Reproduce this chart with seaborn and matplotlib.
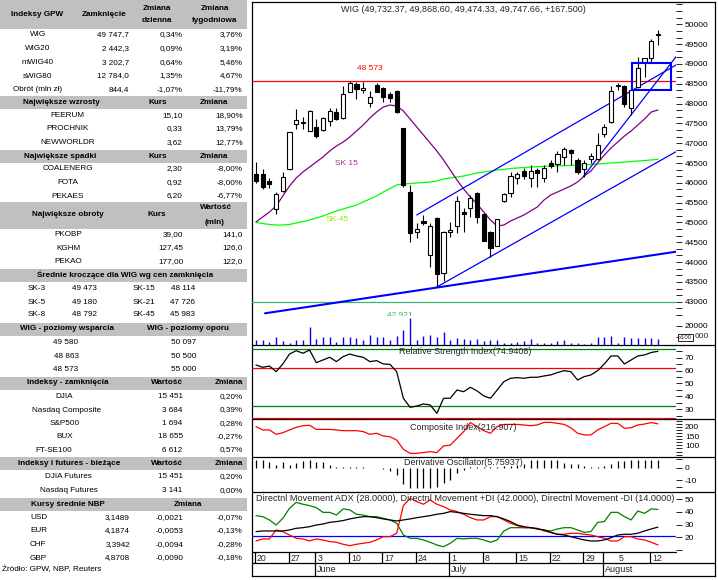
import numpy as np
import matplotlib
matplotlib.use("Agg")
import matplotlib.pyplot as plt
from matplotlib.patches import Rectangle
from matplotlib.ticker import MultipleLocator, FixedLocator
import seaborn as sns

# ------------------------------------------------------------------ data
wig_open = [46215, 46223, 46046, 45340, 45794, 46342, 47485, 47520, 47316, 47401,
            47333, 47560, 47780, 47628, 48300, 48494, 48330, 48007, 48469, 48385,
            48234, 48317, 47376, 45761, 44767, 45045, 44179, 45105, 43733, 44770,
            44919, 45272, 45358, 45736, 45214, 44767, 44414, 45542, 45751, 46115,
            46299, 46115, 46324, 46115, 46493, 46468, 46644, 46829, 46576, 46337,
            46594, 46594, 47225, 47527, 48440, 48443, 47881, 48410, 49041, 49150, 49732]
wig_high = [46533, 46342, 46130, 45777, 46281, 47290, 47863, 47669, 47840, 47600,
            47660, 47896, 47881, 48451, 48573, 48552, 48552, 48325, 48511, 48420,
            48300, 48330, 47380, 45946, 44994, 45189, 44979, 45146, 44790, 45020,
            45676, 45358, 45693, 45776, 45230, 44790, 45100, 45751, 46281, 46281,
            46367, 46450, 46367, 46450, 46576, 46803, 46912, 46866, 46634, 46576,
            46745, 47265, 47485, 48443, 48511, 48469, 48360, 49167, 49150, 49642, 49869]
wig_low = [45996, 45845, 45862, 45206, 45780, 46330, 47351, 47351, 47300, 47124,
           47300, 47442, 47580, 47610, 48290, 48115, 48259, 47921, 48280, 48047,
           48047, 47770, 45888, 44515, 44601, 44936, 43869, 43372, 43523, 44626,
           44742, 44767, 45146, 44979, 44520, 44121, 44400, 45524, 45650, 45963,
           46089, 45888, 45888, 46029, 46367, 46281, 46450, 46450, 46223, 46155,
           46493, 46576, 47164, 47510, 48342, 47901, 47712, 48385, 48663, 49036, 49474]
wig_close = [46054, 45887, 45963, 45711, 46155, 47275, 47586, 47530, 47820, 47189,
             47643, 47820, 47603, 48234, 48511, 48360, 48385, 48158, 48300, 48158,
             48133, 47780, 45946, 44742, 44828, 44979, 44903, 43692, 44767, 44800,
             45542, 45214, 45610, 45146, 44540, 44348, 45080, 45718, 46173, 46215,
             46180, 46299, 46241, 46367, 46417, 46720, 46846, 46745, 46281, 46493,
             46677, 46955, 47401, 48325, 48470, 47982, 48342, 48890, 49142, 49580, 49748]
sk15 = [45012, 45138, 45264, 45416, 45668, 45920, 46122, 46273, 46400, 46526,
        46652, 46803, 46929, 47030, 47157, 47308, 47460, 47636, 47787, 47913,
        47964, 47939, 47813, 47611, 47409, 47207, 47005, 46803, 46576, 46324,
        46072, 45845, 45643, 45466, 45264, 45062, 44911, 44936, 45037, 45113,
        45189, 45290, 45391, 45567, 45693, 45769, 45845, 45920, 46021, 46173,
        46299, 46501, 46702, 46879, 47030, 47182, 47308, 47460, 47611, 47787, 47838]
sk45 = [44999, 44974, 44949, 44936, 44936, 44949, 44987, 45025, 45062, 45113,
        45163, 45226, 45290, 45340, 45390, 45441, 45517, 45592, 45668, 45769,
        45857, 45945, 45971, 45983, 45996, 46008, 46021, 46046, 46097, 46122,
        46147, 46172, 46210, 46248, 46273, 46299, 46324, 46337, 46362, 46375,
        46387, 46400, 46407, 46417, 46425, 46425, 46432, 46437, 46450, 46455,
        46463, 46475, 46488, 46501, 46513, 46526, 46538, 46551, 46564, 46576, 46594]
volume = [7000, 7000, 5450, 9450, 6100, 4550, 7000, 7000, 19100, 7640,
          9450, 9450, 5450, 9450, 9450, 8550, 7000, 11550, 9450, 10000,
          7000, 10640, 16100, 26700, 7000, 10640, 11550, 10000, 14550, 7000,
          8550, 7640, 7000, 7640, 6360, 7000, 7000, 4550, 4550, 5450,
          6360, 7640, 4550, 4550, 4000, 6360, 7000, 4550, 4550, 3360,
          4000, 10000, 10000, 10640, 4550, 9450, 8550, 8550, 8550, 8550, 7640]
rsi = [64.3, 62.5, 63.5, 59.1, 65.1, 72.8, 75.4, 73.4, 75.9, 66.1,
       68.2, 70.3, 66.9, 70.8, 72.8, 71.3, 70.3, 66.9, 67.7, 65.1,
       64.8, 59.1, 38.5, 31.5, 32.5, 34.1, 33.3, 26.8, 38.5, 38.5,
       44.9, 43.6, 47.0, 44.2, 40.3, 38.5, 44.9, 51.4, 54.0, 54.5,
       54.0, 54.8, 54.8, 55.8, 56.6, 58.4, 59.9, 59.1, 52.7, 55.3,
       56.6, 59.9, 65.1, 71.3, 71.3, 65.1, 68.2, 71.3, 72.1, 74.0, 74.9]
rsi_levels_green = [76.5, 32.3]
rsi_levels_red = [61.7, 23.0]
composite = [202, 184, 184, 160, 169, 184, 198, 207, 209, 187,
             187, 187, 184, 180, 180, 180, 175, 160, 166, 151,
             147, 129, 79, 57, 57, 61, 66, 61, 97, 102,
             138, 175, 224, 202, 180, 166, 202, 214, 214, 214,
             211, 207, 211, 225, 225, 220, 214, 196, 166, 157,
             157, 184, 202, 220, 220, 193, 196, 211, 216, 224, 217]
deriv_osc = [6.0, 6.0, 4.2, 2.0, 4.0, 2.0, 3.5, 5.5, 6.0, 4.0,
             4.0, 2.0, 0.8, 0.3, 0.3, 0.2, 0.2, -0.6, -0.3, -1.5,
             -3.0, -6.0, -13.0, -16.0, -16.0, -16.0, -16.0, -15.0, -12.0, -10.0,
             -4.5, -2.0, 0.5, 0.5, 0.3, 0.2, 0.5, 1.0, 1.5, 2.0,
             3.0, 6.0, 6.0, 6.0, 6.0, 6.0, 3.5, 3.0, 2.5, 1.0,
             0.8, 0.6, 1.5, 3.0, 5.5, 5.0, 6.0, 6.0, 6.0, 6.0, 5.76]
dmi_plus = [37.1, 36.3, 33.7, 29.7, 35.0, 42.9, 47.6, 46.1, 45.0, 43.4,
            39.7, 39.7, 37.6, 42.4, 41.6, 38.2, 37.6, 36.3, 36.3, 35.0,
            33.7, 31.1, 21.8, 19.2, 19.2, 17.9, 16.1, 13.9, 12.6, 15.3,
            19.2, 18.7, 19.2, 19.2, 17.9, 16.1, 17.9, 25.0, 27.6, 27.6,
            27.6, 27.6, 26.6, 25.8, 25.0, 26.6, 27.6, 27.6, 25.8, 23.9,
            24.5, 31.8, 32.4, 39.7, 39.7, 36.3, 33.7, 40.8, 38.9, 42.4, 42.0]
dmi_minus = [17.1, 18.7, 18.7, 25.8, 24.5, 21.8, 19.2, 18.7, 17.1, 18.7,
             17.9, 16.6, 16.1, 14.5, 13.4, 14.5, 15.3, 16.1, 17.9, 20.5,
             20.5, 23.2, 45.0, 50.8, 48.2, 46.1, 49.5, 46.1, 44.2, 41.6,
             40.3, 38.2, 35.5, 33.7, 33.7, 36.3, 36.3, 33.7, 31.1, 29.2,
             27.6, 27.6, 27.1, 25.0, 23.9, 22.4, 22.4, 23.2, 23.2, 22.4,
             21.8, 20.5, 19.2, 17.1, 17.1, 20.5, 20.5, 18.7, 17.9, 16.1, 14.0]
adx = [24.5, 25.0, 25.0, 25.0, 25.0, 25.8, 27.1, 27.6, 28.4, 29.7,
       30.5, 31.8, 32.4, 33.2, 34.5, 35.5, 36.3, 36.3, 35.5, 34.5,
       33.7, 32.9, 33.7, 34.5, 35.5, 36.3, 37.1, 38.2, 38.9, 40.3,
       39.7, 38.9, 38.2, 37.6, 37.1, 37.1, 36.3, 34.5, 32.4, 29.7,
       28.4, 27.6, 26.6, 25.8, 23.9, 22.4, 21.8, 20.5, 19.2, 17.9,
       17.1, 17.1, 17.9, 19.7, 21.8, 22.4, 22.4, 23.2, 25.0, 26.6, 28.0]
dmi_level = 21
day_label_pos = [0, 5, 9, 14, 19, 24, 29, 34, 39, 44, 49, 54, 59]
day_labels = ['20', '27', '3', '10', '17', '24', '1', '8', '15', '22', '29', '5', '12']
day_sep_pos = [0, 5, 9, 14, 19, 24, 29, 34, 39, 44, 49, 52, 59]
month_pos = [9, 29, 52]
month_labels = ['June', 'July', 'August']
resist_level = 48573
support_level = 43000
trend_lines = [((1.34, 42708), (62.7, 44262)),
               ((27.0, 43372), (62.7, 46786)),
               ((24.0, 45189), (62.7, 48973)),
               ((48.85, 46155), (62.7, 49182))]
box = ((56.1, 48340), (62.0, 49015))

# table data
gpw_head = ["Indeksy GPW", "Zamknięcie", "Zmiana\ndzienna", "Zmiana\ntygodniowa"]
gpw_names = ["WIG", "WIG20", "mWIG40", "sWIG80", "Obrót (mln zł)"]
gpw_close = ["49 747,7", "2 442,3", "3 202,7", "12 784,0", "844,4"]
gpw_daily = ["0,34%", "0,09%", "0,64%", "1,35%", "-1,07%"]
gpw_weekly = ["3,76%", "3,19%", "5,46%", "4,67%", "-11,79%"]
up_names = ["FEERUM", "PROCHNIK", "NEWWORLDR"]
up_price = ["15,10", "0,33", "3,62"]
up_chg = ["18,90%", "13,79%", "12,77%"]
dn_names = ["COALENERG", "FOTA", "PEKAES"]
dn_price = ["2,30", "0,92", "6,20"]
dn_chg = ["-8,00%", "-8,00%", "-6,77%"]
to_names = ["PKOBP", "KGHM", "PEKAO"]
to_price = ["39,00", "127,45", "177,00"]
to_value = ["141,0", "126,0", "122,0"]
ma_names1 = ["SK-3", "SK-5", "SK-8"]
ma_vals1 = ["49 473", "49 180", "48 792"]
ma_names2 = ["SK-15", "SK-21", "SK-45"]
ma_vals2 = ["48 114", "47 726", "45 983"]
support_vals = ["49 580", "48 863", "48 573"]
resist_vals = ["50 097", "50 500", "55 000"]
idx_names = ["DJIA", "Nasdaq Composite", "S&P500", "BUX", "FT-SE100"]
idx_vals = ["15 451", "3 684", "1 694", "18 655", "6 612"]
idx_chg = ["0,20%", "0,39%", "0,28%", "-0,27%", "0,57%"]
fut_names = ["DJIA Futures", "Nasdaq Futures"]
fut_vals = ["15 451", "3 141"]
fut_chg = ["0,20%", "0,00%"]
fx_names = ["USD", "EUR", "CHF", "GBP"]
fx_rate = ["3,1489", "4,1874", "3,3942", "4,8708"]
fx_chg = ["-0,0021", "-0,0053", "-0,0094", "-0,0090"]
fx_pct = ["-0,07%", "-0,13%", "-0,28%", "-0,18%"]

# ------------------------------------------------------------------ style
sns.set_theme(style="white")
plt.rcParams['font.family'] = ['Liberation Sans', 'DejaVu Sans']
plt.rcParams['axes.linewidth'] = 0.8

W, H = 718, 580
fig = plt.figure(figsize=(W / 100, H / 100), dpi=100)
fig.patch.set_facecolor('white')


def rect(x0, y0, x1, y1):
    return [x0 / W, 1 - y1 / H, (x1 - x0) / W, (y1 - y0) / H]


# ------------------------------------------------------------------ table
FS = 5.9
GRAY = '#c0c0c0'
tab = fig.add_axes(rect(0, 0, 250, 580))
tab.set_xlim(0, 250)
tab.set_ylim(580, 0)
tab.axis('off')


def band(y0, y1):
    tab.add_patch(Rectangle((0, y0), 247, y1 - y0, facecolor=GRAY, edgecolor='none'))


def t(x, y, s, ha='center', bold=False):
    tab.text(x, y, s, ha=ha, va='center', fontsize=FS,
             fontweight='bold' if bold else 'normal', color='black')


R1, R2, R3 = 129.3, 182.7, 242.7
band(0, 29)
t(37.5, 15, gpw_head[0], bold=True)
t(104, 15, gpw_head[1], bold=True)
t(156.7, 8.5, gpw_head[2].split("\n")[0], bold=True)
t(156.7, 21, gpw_head[2].split("\n")[1], bold=True)
t(214.7, 8.5, gpw_head[3].split("\n")[0], bold=True)
t(214.7, 21, gpw_head[3].split("\n")[1], bold=True)
for y, a, b, c, d in zip([35, 49, 62.5, 76, 89.5], gpw_names, gpw_close, gpw_daily, gpw_weekly):
    t(38, y, a)
    t(R1, y, b, 'right')
    t(R2, y, c, 'right')
    t(R3, y, d, 'right')

band(95.5, 108.7)
t(61, 102, "Największe wzrosty", bold=True)
t(157.5, 102, "Kurs", bold=True)
t(214, 102, "Zmiana", bold=True)
for y, a, b, c in zip([115.5, 129, 142.5], up_names, up_price, up_chg):
    t(67.5, y, a)
    t(R2, y, b, 'right')
    t(R3, y, c, 'right')

band(149.5, 162.7)
t(60, 156, "Największe spadki", bold=True)
t(157.5, 156, "Kurs", bold=True)
t(214, 156, "Zmiana", bold=True)
for y, a, b, c in zip([169, 182.5, 196], dn_names, dn_price, dn_chg):
    t(67.5, y, a)
    t(R2, y, b, 'right')
    t(R3, y, c, 'right')

band(202, 228.5)
t(67.5, 215, "Największe obroty", bold=True)
t(156.7, 215, "Kurs", bold=True)
t(216, 207.5, "Wartość", bold=True)
t(215, 222, "(mln)", bold=True)
for y, a, b, c in zip([234.5, 248, 261.5], to_names, to_price, to_value):
    t(68.3, y, a)
    t(183.3, y, b, 'right')
    t(R3, y, c, 'right')

band(268.5, 281.7)
t(125, 275, "Średnie kroczące dla WIG wg cen zamknięcia", bold=True)
for y, a, b, c, d in zip([289, 302, 315], ma_names1, ma_vals1, ma_names2, ma_vals2):
    t(28, y, a, 'left')
    t(97, y, b, 'right')
    t(133, y, c, 'left')
    t(195, y, d, 'right')

band(322.5, 335.7)
t(67, 329, "WIG - poziomy wsparcia", bold=True)
t(188, 329, "WIG - poziomy oporu", bold=True)
for y, a, b in zip([342.5, 356, 369.5], support_vals, resist_vals):
    t(66, y, a)
    t(184, y, b)

band(376.5, 389.7)
t(68, 383, "Indeksy - zamknięcia", bold=True)
t(R2, 383, "Wartość", 'right', bold=True)
t(R3, 383, "Zmiana", 'right', bold=True)
for y, cx, a, b, c in zip([396.5, 410, 423.5, 437, 450], [64, 66.3, 65, 64.5, 54],
                          idx_names, idx_vals, idx_chg):
    t(cx, y, a)
    t(R2, y, b, 'right')
    t(R3, y, c, 'right')

band(457, 470.2)
t(69, 463.5, "Indeksy i futures - bieżące", bold=True)
t(R2, 463.5, "Wartość", 'right', bold=True)
t(R3, 463.5, "Zmiana", 'right', bold=True)
for y, cx, a, b, c in zip([477, 490.5], [68, 69.3], fut_names, fut_vals, fut_chg):
    t(cx, y, a)
    t(R2, y, b, 'right')
    t(R3, y, c, 'right')

band(497.5, 510.7)
t(68, 504, "Kursy średnie NBP", bold=True)
t(187.5, 504, "Zmiana", bold=True)
for y, a, b, c, d in zip([517.5, 531, 544.5, 558], fx_names, fx_rate, fx_chg, fx_pct):
    t(30, y, a, 'left')
    t(130, y, b, 'right')
    t(184, y, c, 'right')
    t(R3, y, d, 'right')
t(1.7, 569.5, "Źródło: GPW, NBP, Reuters", 'left')

# ------------------------------------------------------------------ chart frame
frm = fig.add_axes(rect(252, 2, 715, 576))
frm.set_xlim(252, 715)
frm.set_ylim(576, 2)
frm.set_xticks([])
frm.set_yticks([])
frm.set_facecolor('white')
for s in frm.spines.values():
    s.set_visible(True)
    s.set_color('black')
    s.set_linewidth(0.9)
for yy in [345, 419.3, 456.7, 491.7, 563.3]:
    frm.plot([252, 715], [yy, yy], color='black', lw=0.9)
frm.plot([252, 676], [552, 552], color='black', lw=0.9)

XL = (-0.6, 62.7)
idx = np.arange(len(wig_close))
TFS = 6.0


def panel(y0, y1, ylim):
    a = fig.add_axes(rect(252, y0, 676, y1))
    a.set_facecolor('none')
    a.set_xlim(*XL)
    a.set_ylim(*ylim)
    for s in a.spines.values():
        s.set_visible(False)
    a.set_xticks([])
    a.yaxis.tick_right()
    a.tick_params(axis='y', which='both', right=True, left=False, labelright=True,
                  labelleft=False, direction='out', length=4, width=0.6, pad=2.5,
                  labelsize=TFS, colors='black')
    a.grid(False)
    return a


# price panel
axp = panel(2, 316, (42640, 50563))
axp.axhline(resist_level, color='#ff0000', lw=0.9, zorder=1)
axp.axhline(support_level, color='#3cb371', lw=0.9, zorder=1)
sns.lineplot(x=idx, y=sk45, ax=axp, color='#00ff00', lw=0.9, legend=False, zorder=2)
sns.lineplot(x=idx, y=sk15, ax=axp, color='#800080', lw=0.9, legend=False, zorder=2)
for k, ((x0, y0), (x1, y1)) in enumerate(trend_lines):
    axp.plot([x0, x1], [y0, y1], color='#0000ff', lw=1.5 if k == 0 else 0.9, zorder=2)
(bx0, by0), (bx1, by1) = box
axp.add_patch(Rectangle((bx0, by0), bx1 - bx0, by1 - by0, fill=False,
                        edgecolor='#0000ff', lw=1.5, zorder=5))
o = np.array(wig_open, float)
c = np.array(wig_close, float)
axp.vlines(idx, wig_low, wig_high, color='black', lw=0.8, zorder=3)
axp.bar(idx, np.abs(c - o), bottom=np.minimum(o, c), width=0.62,
        color=np.where(c >= o, 'white', 'black'), edgecolor='black', linewidth=0.8, zorder=4)
axp.text(17.0, 48890, "48 573", color='#ff0000', fontsize=TFS, ha='center', va='center')
axp.text(13.5, 46493, "SK 15", color='#993399', fontsize=TFS, ha='center', va='center')
axp.text(12.1, 45063, "SK-45", color='#99ee00', fontsize=TFS, ha='center', va='center')
axp.text(21.5, 42655, "42 921", color='#33bb55', fontsize=TFS, ha='center', va='center',
         clip_on=True)
axp.set_yticks(np.arange(43000, 50001, 500))
axp.set_yticklabels([str(v) for v in range(43000, 50001, 500)])
axp.yaxis.set_minor_locator(MultipleLocator(500 / 3))
axp.set_xlabel('')
axp.set_ylabel('')

# volume panel
axv = panel(316, 345, (2450, 28800))
axv.vlines(idx, 0, volume, color='#0000ff', lw=1.0)
axv.set_yticks([10000, 20000])
axv.set_yticklabels(['', '20000'])
fig.text(694.5 / W, 1 - 337 / H, "000", fontsize=TFS, ha='left', va='center')
fig.text(679.0 / W, 1 - 337.5 / H, "x100", fontsize=4.3, ha='left', va='center',
         bbox=dict(facecolor='white', edgecolor='black', lw=0.6, pad=0.6))

# RSI
axr = panel(345, 419.3, (22.2, 79.8))
for lv in rsi_levels_green:
    axr.axhline(lv, color='#008000', lw=0.9)
for lv in rsi_levels_red:
    axr.axhline(lv, color='#ff0000', lw=0.9)
sns.lineplot(x=idx, y=rsi, ax=axr, color='black', lw=0.9, legend=False)
axr.set_yticks([30, 40, 50, 60, 70])
axr.set_yticklabels(['30', '40', '50', '60', '70'])
axr.yaxis.set_minor_locator(MultipleLocator(5))
axr.set_xlabel('')
axr.set_ylabel('')

# Composite
axc = panel(419.3, 456.7, (38.6, 241.8))
sns.lineplot(x=idx, y=composite, ax=axc, color='#ff0000', lw=0.9, legend=False)
axc.set_yticks([100, 150, 200])
axc.set_yticklabels(['100', '150', '200'])
axc.yaxis.set_minor_locator(MultipleLocator(50 / 3))
axc.set_xlabel('')
axc.set_ylabel('')

# Derivative oscillator
axd = panel(456.7, 491.7, (-19, 8.5))
axd.vlines(idx, 0, deriv_osc, color='black', lw=0.9)
axd.set_yticks([-10, 0])
axd.set_yticklabels(['-10', '0'])
axd.yaxis.set_minor_locator(FixedLocator([-15, 7]))

# DMI
axm = panel(491.7, 552, (8.4, 56))
axm.axhline(dmi_level, color='#0000ff', lw=0.9)
sns.lineplot(x=idx, y=dmi_plus, ax=axm, color='#008000', lw=0.9, legend=False)
sns.lineplot(x=idx, y=dmi_minus, ax=axm, color='#ff0000', lw=0.9, legend=False)
sns.lineplot(x=idx, y=adx, ax=axm, color='black', lw=0.9, legend=False)
axm.set_yticks([10, 20, 30, 40, 50])
axm.set_yticklabels(['', '20', '30', '40', '50'])
axm.set_xlabel('')
axm.set_ylabel('')

# date rows
axt = fig.add_axes(rect(252, 552, 676, 563.3))
axt.set_xlim(*XL)
axt.set_ylim(0, 1)
axt.axis('off')
axt.vlines(np.array(day_sep_pos) - 0.15, 0, 1, color='black', lw=0.9)
for p, s in zip(day_label_pos, day_labels):
    axt.text(p + 0.15, 0.45, s, fontsize=TFS + 0.3, ha='left', va='center')

axmo = fig.add_axes(rect(252, 563.3, 715, 575.5))
axmo.set_xlim(XL[0], XL[0] + (715 - 252) / 6.7)
axmo.set_ylim(0, 1)
axmo.axis('off')
axmo.vlines(np.array(month_pos) - 0.15, 0, 1, color='black', lw=0.9)
for p, s in zip(month_pos, month_labels):
    axmo.text(p + 0.1, 0.5, s, fontsize=TFS + 0.5, ha='left', va='center')

# panel titles
fig.text(463 / W, 1 - 10 / H, "WIG (49,732.37, 49,868.60, 49,474.33, 49,747.66, +167.500)",
         fontsize=6.5, ha='center', va='center')
fig.text(465 / W, 1 - 351 / H, "Relative Strength Index(74.9408)",
         fontsize=6.5, ha='center', va='center')
fig.text(463 / W, 1 - 427.5 / H, "Composite Index(216.907)",
         fontsize=6.5, ha='center', va='center')
fig.text(463 / W, 1 - 462.5 / H, "Derivative Oscillator(5.75937)",
         fontsize=6.5, ha='center', va='center')
fig.text(256.5 / W, 1 - 498.5 / H,
         "Directnl Movement ADX (28.0000), Directnl Movement +DI (42.0000), "
         "Directnl Movement -DI (14.0000)",
         fontsize=6.55, ha='left', va='center')

fig.savefig("out.png", dpi=100, facecolor='white')
